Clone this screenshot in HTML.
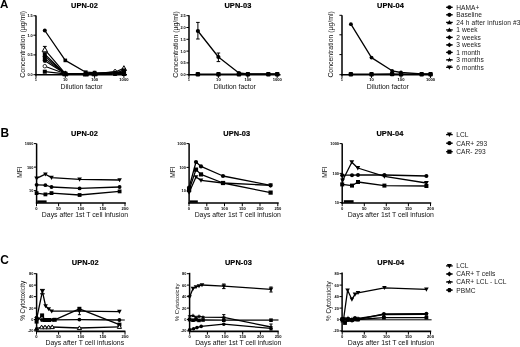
<!DOCTYPE html>
<html><head><meta charset="utf-8"><title>Figure</title>
<style>html,body{margin:0;padding:0;background:#fff;}body{width:520px;height:347px;overflow:hidden;font-family:"Liberation Sans",sans-serif;}svg{display:block;filter:blur(0.3px);}</style>
</head><body>
<svg width="520" height="347" viewBox="0 0 520 347" font-family="Liberation Sans, sans-serif">
<rect width="520" height="347" fill="#fff"/>
<text x="0.1" y="8.1" font-size="11.6" text-anchor="start" font-weight="bold" fill="#000" >A</text>
<text x="0.5" y="136.5" font-size="11.9" text-anchor="start" font-weight="bold" fill="#000" >B</text>
<text x="0.2" y="264.3" font-size="11.9" text-anchor="start" font-weight="bold" fill="#000" >C</text>
<text x="84.5" y="7.7" font-size="7.4" text-anchor="middle" font-weight="bold" fill="#000" letter-spacing="0.12" stroke="#000" stroke-width="0.18">UPN-02</text>
<text x="237.9" y="7.7" font-size="7.4" text-anchor="middle" font-weight="bold" fill="#000" letter-spacing="0.12" stroke="#000" stroke-width="0.18">UPN-03</text>
<text x="390.5" y="7.7" font-size="7.4" text-anchor="middle" font-weight="bold" fill="#000" letter-spacing="0.12" stroke="#000" stroke-width="0.18">UPN-04</text>
<text x="84.5" y="135.8" font-size="7.4" text-anchor="middle" font-weight="bold" fill="#000" letter-spacing="0.12" stroke="#000" stroke-width="0.18">UPN-02</text>
<text x="236.7" y="135.8" font-size="7.4" text-anchor="middle" font-weight="bold" fill="#000" letter-spacing="0.12" stroke="#000" stroke-width="0.18">UPN-03</text>
<text x="389.9" y="135.8" font-size="7.4" text-anchor="middle" font-weight="bold" fill="#000" letter-spacing="0.12" stroke="#000" stroke-width="0.18">UPN-04</text>
<text x="85.2" y="264.9" font-size="7.4" text-anchor="middle" font-weight="bold" fill="#000" letter-spacing="0.12" stroke="#000" stroke-width="0.18">UPN-02</text>
<text x="238.4" y="264.9" font-size="7.4" text-anchor="middle" font-weight="bold" fill="#000" letter-spacing="0.12" stroke="#000" stroke-width="0.18">UPN-03</text>
<text x="390.8" y="264.9" font-size="7.4" text-anchor="middle" font-weight="bold" fill="#000" letter-spacing="0.12" stroke="#000" stroke-width="0.18">UPN-04</text>
<line x1="36.0" y1="15.5" x2="36.0" y2="75.5" stroke="#000" stroke-width="1.5"/>
<line x1="35.2" y1="74.7" x2="127.0" y2="74.7" stroke="#000" stroke-width="1.6"/>
<line x1="33.4" y1="74.7" x2="36.0" y2="74.7" stroke="#000" stroke-width="1.0"/>
<text x="32.8" y="76.1" font-size="3.9" text-anchor="end" font-weight="bold" fill="#000" >0.0</text>
<line x1="33.4" y1="54.9" x2="36.0" y2="54.9" stroke="#000" stroke-width="1.0"/>
<text x="32.8" y="56.3" font-size="3.9" text-anchor="end" font-weight="bold" fill="#000" >0.5</text>
<line x1="33.4" y1="35.2" x2="36.0" y2="35.2" stroke="#000" stroke-width="1.0"/>
<text x="32.8" y="36.6" font-size="3.9" text-anchor="end" font-weight="bold" fill="#000" >1.0</text>
<line x1="33.4" y1="15.8" x2="36.0" y2="15.8" stroke="#000" stroke-width="1.0"/>
<text x="32.8" y="17.2" font-size="3.9" text-anchor="end" font-weight="bold" fill="#000" >1.5</text>
<line x1="36.0" y1="74.7" x2="36.0" y2="77.9" stroke="#000" stroke-width="1.0"/>
<text x="36.0" y="81.3" font-size="4.1" text-anchor="middle" font-weight="bold" fill="#000" >1</text>
<line x1="65.3" y1="74.7" x2="65.3" y2="77.9" stroke="#000" stroke-width="1.0"/>
<text x="65.3" y="81.3" font-size="4.1" text-anchor="middle" font-weight="bold" fill="#000" >10</text>
<line x1="94.6" y1="74.7" x2="94.6" y2="77.9" stroke="#000" stroke-width="1.0"/>
<text x="94.6" y="81.3" font-size="4.1" text-anchor="middle" font-weight="bold" fill="#000" >100</text>
<line x1="123.9" y1="74.7" x2="123.9" y2="77.9" stroke="#000" stroke-width="1.0"/>
<text x="123.9" y="81.3" font-size="4.1" text-anchor="middle" font-weight="bold" fill="#000" >1000</text>
<text x="0" y="0" font-size="6.95" text-anchor="middle" fill="#111" transform="translate(24.9,44.3) rotate(-90)" >Concentration (µg/ml)</text>
<text x="81.5" y="89.0" font-size="6.9" text-anchor="middle" font-weight="normal" fill="#111" >Dilution factor</text>
<polyline points="44.8,49.6 65.3,73.6 85.8,73.8 94.6,73.6 115.1,72.0 123.9,68.4" fill="none" stroke="#000" stroke-width="1.1760000000000002" stroke-linejoin="round"/>
<polyline points="44.8,54.2 65.3,73.8 85.8,74.0 94.6,74.0 115.1,73.0 123.9,70.4" fill="none" stroke="#000" stroke-width="1.1760000000000002" stroke-linejoin="round"/>
<polyline points="44.8,56.4 65.3,73.8 85.8,73.8 94.6,74.0 115.1,73.6 123.9,72.2" fill="none" stroke="#000" stroke-width="1.1760000000000002" stroke-linejoin="round"/>
<polyline points="44.8,58.6 65.3,73.8 85.8,74.0 94.6,73.8 115.1,73.6 123.9,73.4" fill="none" stroke="#000" stroke-width="1.1760000000000002" stroke-linejoin="round"/>
<polyline points="44.8,60.8 65.3,73.8 85.8,73.8 94.6,74.0 115.1,73.6 123.9,73.6" fill="none" stroke="#000" stroke-width="1.1760000000000002" stroke-linejoin="round"/>
<polyline points="44.8,66.2 65.3,73.8 85.8,73.8 94.6,73.8 115.1,71.6 123.9,73.8" fill="none" stroke="#000" stroke-width="1.1760000000000002" stroke-linejoin="round"/>
<polyline points="44.8,71.7 65.3,73.8 85.8,74.0 94.6,73.8 115.1,73.6 123.9,74.0" fill="none" stroke="#000" stroke-width="1.1760000000000002" stroke-linejoin="round"/>
<line x1="44.8" y1="46.4" x2="44.8" y2="50.5" stroke="#000" stroke-width="1.0"/>
<line x1="42.9" y1="46.4" x2="46.7" y2="46.4" stroke="#000" stroke-width="1.0"/>
<line x1="42.9" y1="50.5" x2="46.7" y2="50.5" stroke="#000" stroke-width="1.0"/>
<polyline points="44.8,30.5 65.3,60.4 85.8,72.2 94.6,72.6 115.1,72.8 123.9,71.8" fill="none" stroke="#000" stroke-width="1.288" stroke-linejoin="round"/>
<polygon points="42.1,51.8 47.5,51.8 44.8,46.9" fill="#fff" stroke="#000" stroke-width="1.0"/>
<polygon points="62.6,75.8 68.0,75.8 65.3,70.9" fill="#fff" stroke="#000" stroke-width="1.0"/>
<polygon points="83.1,76.0 88.5,76.0 85.8,71.1" fill="#fff" stroke="#000" stroke-width="1.0"/>
<polygon points="91.9,75.8 97.3,75.8 94.6,70.9" fill="#fff" stroke="#000" stroke-width="1.0"/>
<polygon points="112.4,74.2 117.8,74.2 115.1,69.3" fill="#fff" stroke="#000" stroke-width="1.0"/>
<polygon points="121.2,70.6 126.6,70.6 123.9,65.7" fill="#fff" stroke="#000" stroke-width="1.0"/>
<rect x="42.8" y="52.2" width="4.0" height="4.0" fill="#000"/>
<rect x="63.3" y="71.8" width="4.0" height="4.0" fill="#000"/>
<rect x="83.8" y="72.0" width="4.0" height="4.0" fill="#000"/>
<rect x="92.6" y="72.0" width="4.0" height="4.0" fill="#000"/>
<rect x="113.1" y="71.0" width="4.0" height="4.0" fill="#000"/>
<rect x="121.9" y="68.4" width="4.0" height="4.0" fill="#000"/>
<polygon points="42.4,56.4 44.8,54.0 47.2,56.4 44.8,58.8" fill="#000"/>
<polygon points="62.9,73.8 65.3,71.4 67.7,73.8 65.3,76.2" fill="#000"/>
<polygon points="83.4,73.8 85.8,71.4 88.2,73.8 85.8,76.2" fill="#000"/>
<polygon points="92.2,74.0 94.6,71.6 97.0,74.0 94.6,76.4" fill="#000"/>
<polygon points="112.7,73.6 115.1,71.2 117.5,73.6 115.1,76.0" fill="#000"/>
<polygon points="121.5,72.2 123.9,69.8 126.3,72.2 123.9,74.6" fill="#000"/>
<rect x="42.8" y="56.6" width="4.0" height="4.0" fill="#000"/>
<rect x="63.3" y="71.8" width="4.0" height="4.0" fill="#000"/>
<rect x="83.8" y="72.0" width="4.0" height="4.0" fill="#000"/>
<rect x="92.6" y="71.8" width="4.0" height="4.0" fill="#000"/>
<rect x="113.1" y="71.6" width="4.0" height="4.0" fill="#000"/>
<rect x="121.9" y="71.4" width="4.0" height="4.0" fill="#000"/>
<polygon points="47.09,60.80 45.95,62.76 43.69,62.76 42.55,60.80 43.69,58.84 45.95,58.84" fill="#000"/>
<polygon points="67.57,73.80 66.43,75.76 64.17,75.76 63.03,73.80 64.17,71.84 66.43,71.84" fill="#000"/>
<polygon points="88.05,73.80 86.91,75.76 84.65,75.76 83.51,73.80 84.65,71.84 86.91,71.84" fill="#000"/>
<polygon points="96.87,74.00 95.73,75.96 93.47,75.96 92.33,74.00 93.47,72.04 95.73,72.04" fill="#000"/>
<polygon points="117.35,73.60 116.21,75.56 113.95,75.56 112.81,73.60 113.95,71.64 116.21,71.64" fill="#000"/>
<polygon points="126.17,73.60 125.03,75.56 122.77,75.56 121.63,73.60 122.77,71.64 125.03,71.64" fill="#000"/>
<circle cx="44.8" cy="66.2" r="1.76" fill="#fff" stroke="#000" stroke-width="0.8"/>
<circle cx="65.3" cy="73.8" r="1.76" fill="#fff" stroke="#000" stroke-width="0.8"/>
<circle cx="85.8" cy="73.8" r="1.76" fill="#fff" stroke="#000" stroke-width="0.8"/>
<circle cx="94.6" cy="73.8" r="1.76" fill="#fff" stroke="#000" stroke-width="0.8"/>
<circle cx="115.1" cy="71.6" r="1.76" fill="#fff" stroke="#000" stroke-width="0.8"/>
<circle cx="123.9" cy="73.8" r="1.76" fill="#fff" stroke="#000" stroke-width="0.8"/>
<rect x="42.8" y="69.7" width="4.0" height="4.0" fill="#000"/>
<rect x="63.3" y="71.8" width="4.0" height="4.0" fill="#000"/>
<rect x="83.8" y="72.0" width="4.0" height="4.0" fill="#000"/>
<rect x="92.6" y="71.8" width="4.0" height="4.0" fill="#000"/>
<rect x="113.1" y="71.6" width="4.0" height="4.0" fill="#000"/>
<rect x="121.9" y="72.0" width="4.0" height="4.0" fill="#000"/>
<circle cx="44.8" cy="30.5" r="2.02" fill="#000"/>
<rect x="63.5" y="58.6" width="3.6" height="3.6" fill="#000"/>
<rect x="84.0" y="70.4" width="3.6" height="3.6" fill="#000"/>
<rect x="92.8" y="70.8" width="3.6" height="3.6" fill="#000"/>
<rect x="113.3" y="71.0" width="3.6" height="3.6" fill="#000"/>
<rect x="122.1" y="70.0" width="3.6" height="3.6" fill="#000"/>
<line x1="189.0" y1="15.2" x2="189.0" y2="75.5" stroke="#000" stroke-width="1.5"/>
<line x1="188.2" y1="74.7" x2="280.5" y2="74.7" stroke="#000" stroke-width="1.6"/>
<line x1="186.4" y1="74.7" x2="189.0" y2="74.7" stroke="#000" stroke-width="1.0"/>
<text x="185.8" y="76.1" font-size="3.9" text-anchor="end" font-weight="bold" fill="#000" >0.0</text>
<line x1="186.4" y1="62.9" x2="189.0" y2="62.9" stroke="#000" stroke-width="1.0"/>
<text x="185.8" y="64.3" font-size="3.9" text-anchor="end" font-weight="bold" fill="#000" >0.5</text>
<line x1="186.4" y1="51.1" x2="189.0" y2="51.1" stroke="#000" stroke-width="1.0"/>
<text x="185.8" y="52.5" font-size="3.9" text-anchor="end" font-weight="bold" fill="#000" >1.0</text>
<line x1="186.4" y1="39.3" x2="189.0" y2="39.3" stroke="#000" stroke-width="1.0"/>
<text x="185.8" y="40.7" font-size="3.9" text-anchor="end" font-weight="bold" fill="#000" >1.5</text>
<line x1="186.4" y1="27.5" x2="189.0" y2="27.5" stroke="#000" stroke-width="1.0"/>
<text x="185.8" y="28.9" font-size="3.9" text-anchor="end" font-weight="bold" fill="#000" >2.0</text>
<line x1="186.4" y1="15.7" x2="189.0" y2="15.7" stroke="#000" stroke-width="1.0"/>
<text x="185.8" y="17.1" font-size="3.9" text-anchor="end" font-weight="bold" fill="#000" >2.5</text>
<line x1="189.0" y1="74.7" x2="189.0" y2="77.9" stroke="#000" stroke-width="1.0"/>
<text x="189.0" y="81.3" font-size="4.1" text-anchor="middle" font-weight="bold" fill="#000" >1</text>
<line x1="218.4" y1="74.7" x2="218.4" y2="77.9" stroke="#000" stroke-width="1.0"/>
<text x="218.4" y="81.3" font-size="4.1" text-anchor="middle" font-weight="bold" fill="#000" >10</text>
<line x1="247.8" y1="74.7" x2="247.8" y2="77.9" stroke="#000" stroke-width="1.0"/>
<text x="247.8" y="81.3" font-size="4.1" text-anchor="middle" font-weight="bold" fill="#000" >100</text>
<line x1="277.2" y1="74.7" x2="277.2" y2="77.9" stroke="#000" stroke-width="1.0"/>
<text x="277.2" y="81.3" font-size="4.1" text-anchor="middle" font-weight="bold" fill="#000" >1000</text>
<text x="0" y="0" font-size="6.93" text-anchor="middle" fill="#111" transform="translate(178.2,44.5) rotate(-90)" >Concentration (µg/ml)</text>
<text x="234.8" y="89.0" font-size="6.9" text-anchor="middle" font-weight="normal" fill="#111" >Dilution factor</text>
<line x1="197.9" y1="22.4" x2="197.9" y2="39.0" stroke="#000" stroke-width="1.0"/>
<line x1="196.1" y1="22.4" x2="199.7" y2="22.4" stroke="#000" stroke-width="1.0"/>
<line x1="196.1" y1="39.0" x2="199.7" y2="39.0" stroke="#000" stroke-width="1.0"/>
<line x1="218.4" y1="53.0" x2="218.4" y2="61.6" stroke="#000" stroke-width="1.0"/>
<line x1="216.6" y1="53.0" x2="220.2" y2="53.0" stroke="#000" stroke-width="1.0"/>
<line x1="216.6" y1="61.6" x2="220.2" y2="61.6" stroke="#000" stroke-width="1.0"/>
<polyline points="197.9,31.0 218.4,57.0 238.9,73.0 247.8,74.0 268.3,74.0 277.2,74.0" fill="none" stroke="#000" stroke-width="1.288" stroke-linejoin="round"/>
<polyline points="197.9,74.2 218.4,74.2 238.9,74.2 247.8,74.2 268.3,74.2 277.2,74.2" fill="none" stroke="#000" stroke-width="1.288" stroke-linejoin="round"/>
<circle cx="197.9" cy="31.0" r="2.11" fill="#000"/>
<circle cx="218.4" cy="57.0" r="2.11" fill="#000"/>
<circle cx="238.9" cy="73.0" r="2.11" fill="#000"/>
<circle cx="247.8" cy="74.0" r="2.11" fill="#000"/>
<circle cx="268.3" cy="74.0" r="2.11" fill="#000"/>
<circle cx="277.2" cy="74.0" r="2.11" fill="#000"/>
<rect x="195.6" y="72.0" width="4.5" height="4.5" rx="1.12" fill="#000"/>
<rect x="216.2" y="72.0" width="4.5" height="4.5" rx="1.12" fill="#000"/>
<rect x="236.7" y="72.0" width="4.5" height="4.5" rx="1.12" fill="#000"/>
<rect x="245.6" y="72.0" width="4.5" height="4.5" rx="1.12" fill="#000"/>
<rect x="266.1" y="72.0" width="4.5" height="4.5" rx="1.12" fill="#000"/>
<rect x="275.0" y="72.0" width="4.5" height="4.5" rx="1.12" fill="#000"/>
<line x1="342.0" y1="15.2" x2="342.0" y2="75.5" stroke="#000" stroke-width="1.5"/>
<line x1="341.2" y1="74.7" x2="432.5" y2="74.7" stroke="#000" stroke-width="1.6"/>
<line x1="339.4" y1="74.7" x2="342.0" y2="74.7" stroke="#000" stroke-width="1.0"/>
<line x1="339.4" y1="54.6" x2="342.0" y2="54.6" stroke="#000" stroke-width="1.0"/>
<line x1="339.4" y1="34.8" x2="342.0" y2="34.8" stroke="#000" stroke-width="1.0"/>
<line x1="339.4" y1="15.3" x2="342.0" y2="15.3" stroke="#000" stroke-width="1.0"/>
<line x1="342.0" y1="74.7" x2="342.0" y2="77.9" stroke="#000" stroke-width="1.0"/>
<text x="342.0" y="81.3" font-size="4.1" text-anchor="middle" font-weight="bold" fill="#000" >1</text>
<line x1="371.5" y1="74.7" x2="371.5" y2="77.9" stroke="#000" stroke-width="1.0"/>
<text x="371.5" y="81.3" font-size="4.1" text-anchor="middle" font-weight="bold" fill="#000" >10</text>
<line x1="401.0" y1="74.7" x2="401.0" y2="77.9" stroke="#000" stroke-width="1.0"/>
<text x="401.0" y="81.3" font-size="4.1" text-anchor="middle" font-weight="bold" fill="#000" >100</text>
<line x1="430.5" y1="74.7" x2="430.5" y2="77.9" stroke="#000" stroke-width="1.0"/>
<text x="430.5" y="81.3" font-size="4.1" text-anchor="middle" font-weight="bold" fill="#000" >1000</text>
<text x="0" y="0" font-size="6.9" text-anchor="middle" fill="#111" transform="translate(333.4,44.4) rotate(-90)" >Concentration (µg/ml)</text>
<text x="387.7" y="89.0" font-size="6.9" text-anchor="middle" font-weight="normal" fill="#111" >Dilution factor</text>
<polyline points="350.9,24.2 371.5,57.6 392.1,70.8 401.0,72.5 421.6,73.8 430.5,74.0" fill="none" stroke="#000" stroke-width="1.288" stroke-linejoin="round"/>
<polyline points="350.9,74.2 371.5,74.2 392.1,74.0 401.0,74.2 421.6,74.2 430.5,74.2" fill="none" stroke="#000" stroke-width="1.288" stroke-linejoin="round"/>
<circle cx="350.9" cy="24.2" r="1.92" fill="#000"/>
<circle cx="371.5" cy="57.6" r="1.92" fill="#000"/>
<circle cx="392.1" cy="70.8" r="1.92" fill="#000"/>
<circle cx="401.0" cy="72.5" r="1.92" fill="#000"/>
<circle cx="421.6" cy="73.8" r="1.92" fill="#000"/>
<circle cx="430.5" cy="74.0" r="1.92" fill="#000"/>
<rect x="348.6" y="72.0" width="4.5" height="4.5" rx="1.12" fill="#000"/>
<rect x="369.3" y="72.0" width="4.5" height="4.5" rx="1.12" fill="#000"/>
<rect x="389.9" y="71.8" width="4.5" height="4.5" rx="1.12" fill="#000"/>
<rect x="398.8" y="72.0" width="4.5" height="4.5" rx="1.12" fill="#000"/>
<rect x="419.4" y="72.0" width="4.5" height="4.5" rx="1.12" fill="#000"/>
<rect x="428.3" y="72.0" width="4.5" height="4.5" rx="1.12" fill="#000"/>
<line x1="446.1" y1="7.3" x2="452.7" y2="7.3" stroke="#000" stroke-width="1.3"/>
<circle cx="449.4" cy="7.3" r="2.08" fill="#000"/>
<text x="456.3" y="9.7" font-size="6.6" text-anchor="start" font-weight="normal" fill="#1a1a1a" letter-spacing="0.05">HAMA+</text>
<line x1="446.1" y1="14.8" x2="452.7" y2="14.8" stroke="#000" stroke-width="1.3"/>
<circle cx="449.4" cy="14.8" r="2.08" fill="#000"/>
<text x="456.3" y="17.2" font-size="6.6" text-anchor="start" font-weight="normal" fill="#1a1a1a" letter-spacing="0.05">Baseline</text>
<line x1="446.1" y1="22.4" x2="452.7" y2="22.4" stroke="#000" stroke-width="1.3"/>
<polygon points="446.9,24.3 451.9,24.3 449.4,19.9" fill="#000"/>
<text x="456.3" y="24.7" font-size="6.6" text-anchor="start" font-weight="normal" fill="#1a1a1a" letter-spacing="0.12">24 h after infusion #3</text>
<line x1="446.1" y1="29.9" x2="452.7" y2="29.9" stroke="#000" stroke-width="1.3"/>
<polygon points="446.9,31.8 451.9,31.8 449.4,27.4" fill="#000"/>
<text x="456.3" y="32.2" font-size="6.6" text-anchor="start" font-weight="normal" fill="#1a1a1a" letter-spacing="0.05">1 week</text>
<line x1="446.1" y1="37.4" x2="452.7" y2="37.4" stroke="#000" stroke-width="1.3"/>
<polygon points="446.9,37.4 449.4,34.9 451.9,37.4 449.4,39.8" fill="#000"/>
<text x="456.3" y="39.7" font-size="6.6" text-anchor="start" font-weight="normal" fill="#1a1a1a" letter-spacing="0.05">2 weeks</text>
<line x1="446.1" y1="44.9" x2="452.7" y2="44.9" stroke="#000" stroke-width="1.3"/>
<polygon points="446.9,44.9 449.4,42.4 451.9,44.9 449.4,47.3" fill="#000"/>
<text x="456.3" y="47.2" font-size="6.6" text-anchor="start" font-weight="normal" fill="#1a1a1a" letter-spacing="0.05">3 weeks</text>
<line x1="446.1" y1="52.4" x2="452.7" y2="52.4" stroke="#000" stroke-width="1.3"/>
<polygon points="451.74,52.35 450.57,54.38 448.23,54.38 447.06,52.35 448.23,50.32 450.57,50.32" fill="#000"/>
<text x="456.3" y="54.7" font-size="6.6" text-anchor="start" font-weight="normal" fill="#1a1a1a" letter-spacing="0.05">1 month</text>
<line x1="446.1" y1="59.9" x2="452.7" y2="59.9" stroke="#000" stroke-width="1.3"/>
<polygon points="449.40,57.25 450.09,58.90 451.87,59.05 450.51,60.21 450.93,61.95 449.40,61.02 447.87,61.95 448.29,60.21 446.93,59.05 448.71,58.90" fill="#000"/>
<text x="456.3" y="62.2" font-size="6.6" text-anchor="start" font-weight="normal" fill="#1a1a1a" letter-spacing="0.05">3 months</text>
<line x1="446.1" y1="67.3" x2="452.7" y2="67.3" stroke="#000" stroke-width="1.3"/>
<polygon points="446.9,65.4 451.9,65.4 449.4,69.8" fill="#000"/>
<text x="456.3" y="69.7" font-size="6.6" text-anchor="start" font-weight="normal" fill="#1a1a1a" letter-spacing="0.05">6 months</text>
<line x1="36.6" y1="143.6" x2="36.6" y2="203.8" stroke="#000" stroke-width="1.5"/>
<line x1="35.9" y1="203.0" x2="125.8" y2="203.0" stroke="#000" stroke-width="1.6"/>
<line x1="34.0" y1="143.6" x2="36.6" y2="143.6" stroke="#000" stroke-width="1.0"/>
<text x="33.4" y="145.0" font-size="3.9" text-anchor="end" font-weight="bold" fill="#000" >1000</text>
<line x1="34.0" y1="167.1" x2="36.6" y2="167.1" stroke="#000" stroke-width="1.0"/>
<text x="33.4" y="168.5" font-size="3.9" text-anchor="end" font-weight="bold" fill="#000" >100</text>
<line x1="34.0" y1="190.6" x2="36.6" y2="190.6" stroke="#000" stroke-width="1.0"/>
<text x="33.4" y="192.0" font-size="3.9" text-anchor="end" font-weight="bold" fill="#000" >10</text>
<line x1="36.5" y1="203.0" x2="36.5" y2="206.2" stroke="#000" stroke-width="1.0"/>
<text x="36.5" y="209.6" font-size="4.1" text-anchor="middle" font-weight="bold" fill="#000" >0</text>
<line x1="58.6" y1="203.0" x2="58.6" y2="206.2" stroke="#000" stroke-width="1.0"/>
<text x="58.6" y="209.6" font-size="4.1" text-anchor="middle" font-weight="bold" fill="#000" >50</text>
<line x1="80.8" y1="203.0" x2="80.8" y2="206.2" stroke="#000" stroke-width="1.0"/>
<text x="80.8" y="209.6" font-size="4.1" text-anchor="middle" font-weight="bold" fill="#000" >100</text>
<line x1="102.9" y1="203.0" x2="102.9" y2="206.2" stroke="#000" stroke-width="1.0"/>
<text x="102.9" y="209.6" font-size="4.1" text-anchor="middle" font-weight="bold" fill="#000" >150</text>
<line x1="125.0" y1="203.0" x2="125.0" y2="206.2" stroke="#000" stroke-width="1.0"/>
<text x="125.0" y="209.6" font-size="4.1" text-anchor="middle" font-weight="bold" fill="#000" >200</text>
<text x="0" y="0" font-size="6.6" text-anchor="middle" fill="#111" transform="translate(22.0,172.0) rotate(-90)" >MFI</text>
<text x="85.0" y="217.0" font-size="6.9" text-anchor="middle" font-weight="normal" fill="#111" >Days after 1st T cell infusion</text>
<polyline points="36.6,178.4 45.4,174.2 51.5,177.6 79.6,179.4 119.6,180.0" fill="none" stroke="#000" stroke-width="1.288" stroke-linejoin="round"/>
<polyline points="36.6,184.8 45.4,185.2 51.5,187.0 79.6,188.4 119.6,187.0" fill="none" stroke="#000" stroke-width="1.288" stroke-linejoin="round"/>
<polyline points="36.6,193.1 45.4,194.4 51.5,193.1 79.6,195.0 119.6,191.4" fill="none" stroke="#000" stroke-width="1.288" stroke-linejoin="round"/>
<rect x="37.2" y="200.4" width="9.4" height="2.4" fill="#000"/>
<polygon points="34.3,176.6 38.9,176.6 36.6,180.7" fill="#000"/>
<polygon points="43.1,172.4 47.7,172.4 45.4,176.5" fill="#000"/>
<polygon points="49.2,175.8 53.8,175.8 51.5,179.9" fill="#000"/>
<polygon points="77.3,177.6 81.9,177.6 79.6,181.7" fill="#000"/>
<polygon points="117.3,178.2 121.9,178.2 119.6,182.3" fill="#000"/>
<circle cx="36.6" cy="184.8" r="1.92" fill="#000"/>
<circle cx="45.4" cy="185.2" r="1.92" fill="#000"/>
<circle cx="51.5" cy="187.0" r="1.92" fill="#000"/>
<circle cx="79.6" cy="188.4" r="1.92" fill="#000"/>
<circle cx="119.6" cy="187.0" r="1.92" fill="#000"/>
<rect x="34.7" y="191.2" width="3.8" height="3.8" fill="#000"/>
<rect x="43.5" y="192.5" width="3.8" height="3.8" fill="#000"/>
<rect x="49.6" y="191.2" width="3.8" height="3.8" fill="#000"/>
<rect x="77.7" y="193.1" width="3.8" height="3.8" fill="#000"/>
<rect x="117.7" y="189.5" width="3.8" height="3.8" fill="#000"/>
<line x1="189.1" y1="143.6" x2="189.1" y2="203.8" stroke="#000" stroke-width="1.5"/>
<line x1="188.3" y1="203.0" x2="278.7" y2="203.0" stroke="#000" stroke-width="1.6"/>
<line x1="186.5" y1="143.6" x2="189.1" y2="143.6" stroke="#000" stroke-width="1.0"/>
<text x="185.9" y="145.0" font-size="3.9" text-anchor="end" font-weight="bold" fill="#000" >1000</text>
<line x1="186.5" y1="167.4" x2="189.1" y2="167.4" stroke="#000" stroke-width="1.0"/>
<text x="185.9" y="168.8" font-size="3.9" text-anchor="end" font-weight="bold" fill="#000" >100</text>
<line x1="186.5" y1="191.0" x2="189.1" y2="191.0" stroke="#000" stroke-width="1.0"/>
<text x="185.9" y="192.4" font-size="3.9" text-anchor="end" font-weight="bold" fill="#000" >10</text>
<line x1="189.0" y1="203.0" x2="189.0" y2="206.2" stroke="#000" stroke-width="1.0"/>
<text x="189.0" y="209.6" font-size="4.1" text-anchor="middle" font-weight="bold" fill="#000" >0</text>
<line x1="206.8" y1="203.0" x2="206.8" y2="206.2" stroke="#000" stroke-width="1.0"/>
<text x="206.8" y="209.6" font-size="4.1" text-anchor="middle" font-weight="bold" fill="#000" >50</text>
<line x1="224.5" y1="203.0" x2="224.5" y2="206.2" stroke="#000" stroke-width="1.0"/>
<text x="224.5" y="209.6" font-size="4.1" text-anchor="middle" font-weight="bold" fill="#000" >100</text>
<line x1="242.3" y1="203.0" x2="242.3" y2="206.2" stroke="#000" stroke-width="1.0"/>
<text x="242.3" y="209.6" font-size="4.1" text-anchor="middle" font-weight="bold" fill="#000" >150</text>
<line x1="260.0" y1="203.0" x2="260.0" y2="206.2" stroke="#000" stroke-width="1.0"/>
<text x="260.0" y="209.6" font-size="4.1" text-anchor="middle" font-weight="bold" fill="#000" >200</text>
<line x1="277.8" y1="203.0" x2="277.8" y2="206.2" stroke="#000" stroke-width="1.0"/>
<text x="277.8" y="209.6" font-size="4.1" text-anchor="middle" font-weight="bold" fill="#000" >250</text>
<text x="0" y="0" font-size="6.6" text-anchor="middle" fill="#111" transform="translate(175.0,172.0) rotate(-90)" >MFI</text>
<text x="237.8" y="217.0" font-size="6.9" text-anchor="middle" font-weight="normal" fill="#111" >Days after 1st T cell infusion</text>
<polyline points="189.1,187.5 196.0,162.0 201.0,166.4 223.0,176.0 270.6,185.4" fill="none" stroke="#000" stroke-width="1.288" stroke-linejoin="round"/>
<polyline points="189.1,190.0 196.0,169.6 201.0,174.4 223.0,183.0 270.6,192.6" fill="none" stroke="#000" stroke-width="1.288" stroke-linejoin="round"/>
<polyline points="189.1,192.5 196.0,177.0 201.0,180.4 223.0,183.0 270.6,185.4" fill="none" stroke="#000" stroke-width="1.288" stroke-linejoin="round"/>
<rect x="189.6" y="200.4" width="8.2" height="2.4" fill="#000"/>
<circle cx="189.1" cy="187.5" r="2.11" fill="#000"/>
<circle cx="196.0" cy="162.0" r="2.11" fill="#000"/>
<circle cx="201.0" cy="166.4" r="2.11" fill="#000"/>
<circle cx="223.0" cy="176.0" r="2.11" fill="#000"/>
<circle cx="270.6" cy="185.4" r="2.11" fill="#000"/>
<rect x="187.0" y="187.9" width="4.2" height="4.2" fill="#000"/>
<rect x="193.9" y="167.5" width="4.2" height="4.2" fill="#000"/>
<rect x="198.9" y="172.3" width="4.2" height="4.2" fill="#000"/>
<rect x="220.9" y="180.9" width="4.2" height="4.2" fill="#000"/>
<rect x="268.5" y="190.5" width="4.2" height="4.2" fill="#000"/>
<polygon points="186.8,190.7 191.4,190.7 189.1,194.8" fill="#000"/>
<polygon points="193.7,175.2 198.3,175.2 196.0,179.3" fill="#000"/>
<polygon points="198.7,178.6 203.3,178.6 201.0,182.7" fill="#000"/>
<polygon points="220.7,181.2 225.3,181.2 223.0,185.3" fill="#000"/>
<polygon points="268.3,183.6 272.9,183.6 270.6,187.7" fill="#000"/>
<line x1="342.2" y1="143.6" x2="342.2" y2="203.8" stroke="#000" stroke-width="1.5"/>
<line x1="341.4" y1="203.0" x2="431.2" y2="203.0" stroke="#000" stroke-width="1.6"/>
<line x1="339.6" y1="143.6" x2="342.2" y2="143.6" stroke="#000" stroke-width="1.0"/>
<text x="339.0" y="145.0" font-size="3.9" text-anchor="end" font-weight="bold" fill="#000" >1000</text>
<line x1="339.6" y1="173.4" x2="342.2" y2="173.4" stroke="#000" stroke-width="1.0"/>
<text x="339.0" y="174.8" font-size="3.9" text-anchor="end" font-weight="bold" fill="#000" >100</text>
<line x1="339.6" y1="202.6" x2="342.2" y2="202.6" stroke="#000" stroke-width="1.0"/>
<text x="339.0" y="204.0" font-size="3.9" text-anchor="end" font-weight="bold" fill="#000" >10</text>
<line x1="342.2" y1="203.0" x2="342.2" y2="206.2" stroke="#000" stroke-width="1.0"/>
<text x="342.2" y="209.6" font-size="4.1" text-anchor="middle" font-weight="bold" fill="#000" >0</text>
<line x1="364.3" y1="203.0" x2="364.3" y2="206.2" stroke="#000" stroke-width="1.0"/>
<text x="364.3" y="209.6" font-size="4.1" text-anchor="middle" font-weight="bold" fill="#000" >50</text>
<line x1="386.3" y1="203.0" x2="386.3" y2="206.2" stroke="#000" stroke-width="1.0"/>
<text x="386.3" y="209.6" font-size="4.1" text-anchor="middle" font-weight="bold" fill="#000" >100</text>
<line x1="408.4" y1="203.0" x2="408.4" y2="206.2" stroke="#000" stroke-width="1.0"/>
<text x="408.4" y="209.6" font-size="4.1" text-anchor="middle" font-weight="bold" fill="#000" >150</text>
<line x1="430.5" y1="203.0" x2="430.5" y2="206.2" stroke="#000" stroke-width="1.0"/>
<text x="430.5" y="209.6" font-size="4.1" text-anchor="middle" font-weight="bold" fill="#000" >200</text>
<text x="0" y="0" font-size="6.6" text-anchor="middle" fill="#111" transform="translate(327.0,172.0) rotate(-90)" >MFI</text>
<text x="390.8" y="217.0" font-size="6.9" text-anchor="middle" font-weight="normal" fill="#111" >Days after 1st T cell infusion</text>
<polyline points="342.6,180.5 351.8,162.2 357.8,168.0 384.4,176.4 426.4,183.0" fill="none" stroke="#000" stroke-width="1.288" stroke-linejoin="round"/>
<polyline points="342.2,175.2 352.0,175.2 358.0,175.0 384.4,175.0 426.4,176.0" fill="none" stroke="#000" stroke-width="1.288" stroke-linejoin="round"/>
<polyline points="342.2,184.4 352.0,185.6 358.0,182.0 384.4,185.6 426.4,186.0" fill="none" stroke="#000" stroke-width="1.288" stroke-linejoin="round"/>
<rect x="343.8" y="200.2" width="9.8" height="2.6" fill="#000"/>
<polygon points="340.2,178.6 345.0,178.6 342.6,182.9" fill="#000"/>
<polygon points="349.4,160.3 354.2,160.3 351.8,164.6" fill="#000"/>
<polygon points="355.4,166.1 360.2,166.1 357.8,170.4" fill="#000"/>
<polygon points="382.0,174.5 386.8,174.5 384.4,178.8" fill="#000"/>
<polygon points="424.0,181.1 428.8,181.1 426.4,185.4" fill="#000"/>
<circle cx="342.2" cy="175.2" r="2.02" fill="#000"/>
<circle cx="352.0" cy="175.2" r="2.02" fill="#000"/>
<circle cx="358.0" cy="175.0" r="2.02" fill="#000"/>
<circle cx="384.4" cy="175.0" r="2.02" fill="#000"/>
<circle cx="426.4" cy="176.0" r="2.02" fill="#000"/>
<rect x="340.2" y="182.4" width="4.0" height="4.0" fill="#000"/>
<rect x="350.0" y="183.6" width="4.0" height="4.0" fill="#000"/>
<rect x="356.0" y="180.0" width="4.0" height="4.0" fill="#000"/>
<rect x="382.4" y="183.6" width="4.0" height="4.0" fill="#000"/>
<rect x="424.4" y="184.0" width="4.0" height="4.0" fill="#000"/>
<line x1="446.1" y1="134.6" x2="452.7" y2="134.6" stroke="#000" stroke-width="1.3"/>
<polygon points="446.9,132.6 451.9,132.6 449.4,137.1" fill="#000"/>
<text x="456.3" y="136.9" font-size="6.6" text-anchor="start" font-weight="normal" fill="#1a1a1a" letter-spacing="0.05">LCL</text>
<line x1="446.1" y1="143.2" x2="452.7" y2="143.2" stroke="#000" stroke-width="1.3"/>
<circle cx="449.4" cy="143.2" r="2.08" fill="#000"/>
<text x="456.3" y="145.5" font-size="6.6" text-anchor="start" font-weight="normal" fill="#1a1a1a" letter-spacing="0.05">CAR+ 293</text>
<line x1="446.1" y1="151.7" x2="452.7" y2="151.7" stroke="#000" stroke-width="1.3"/>
<rect x="447.3" y="149.6" width="4.2" height="4.2" fill="#000"/>
<text x="456.3" y="154.0" font-size="6.6" text-anchor="start" font-weight="normal" fill="#1a1a1a" letter-spacing="0.05">CAR- 293</text>
<line x1="36.6" y1="273.4" x2="36.6" y2="332.1" stroke="#000" stroke-width="1.5"/>
<line x1="35.9" y1="331.4" x2="125.4" y2="331.4" stroke="#000" stroke-width="1.6"/>
<line x1="34.0" y1="273.7" x2="36.6" y2="273.7" stroke="#000" stroke-width="1.0"/>
<text x="33.4" y="275.1" font-size="3.9" text-anchor="end" font-weight="bold" fill="#000" >80</text>
<line x1="34.0" y1="285.1" x2="36.6" y2="285.1" stroke="#000" stroke-width="1.0"/>
<text x="33.4" y="286.6" font-size="3.9" text-anchor="end" font-weight="bold" fill="#000" >60</text>
<line x1="34.0" y1="296.6" x2="36.6" y2="296.6" stroke="#000" stroke-width="1.0"/>
<text x="33.4" y="298.0" font-size="3.9" text-anchor="end" font-weight="bold" fill="#000" >40</text>
<line x1="34.0" y1="308.1" x2="36.6" y2="308.1" stroke="#000" stroke-width="1.0"/>
<text x="33.4" y="309.5" font-size="3.9" text-anchor="end" font-weight="bold" fill="#000" >20</text>
<line x1="34.0" y1="319.5" x2="36.6" y2="319.5" stroke="#000" stroke-width="1.0"/>
<text x="33.4" y="320.9" font-size="3.9" text-anchor="end" font-weight="bold" fill="#000" >0</text>
<line x1="34.0" y1="330.9" x2="36.6" y2="330.9" stroke="#000" stroke-width="1.0"/>
<text x="33.4" y="332.4" font-size="3.9" text-anchor="end" font-weight="bold" fill="#000" >-20</text>
<line x1="36.5" y1="331.4" x2="36.5" y2="334.6" stroke="#000" stroke-width="1.0"/>
<text x="36.5" y="338.0" font-size="4.1" text-anchor="middle" font-weight="bold" fill="#000" >0</text>
<line x1="58.6" y1="331.4" x2="58.6" y2="334.6" stroke="#000" stroke-width="1.0"/>
<text x="58.6" y="338.0" font-size="4.1" text-anchor="middle" font-weight="bold" fill="#000" >50</text>
<line x1="80.8" y1="331.4" x2="80.8" y2="334.6" stroke="#000" stroke-width="1.0"/>
<text x="80.8" y="338.0" font-size="4.1" text-anchor="middle" font-weight="bold" fill="#000" >100</text>
<line x1="102.9" y1="331.4" x2="102.9" y2="334.6" stroke="#000" stroke-width="1.0"/>
<text x="102.9" y="338.0" font-size="4.1" text-anchor="middle" font-weight="bold" fill="#000" >150</text>
<line x1="125.0" y1="331.4" x2="125.0" y2="334.6" stroke="#000" stroke-width="1.0"/>
<text x="125.0" y="338.0" font-size="4.1" text-anchor="middle" font-weight="bold" fill="#000" >200</text>
<text x="0" y="0" font-size="6.4" text-anchor="middle" fill="#111" transform="translate(25.2,300.8) rotate(-90)" >% Cytotoxicity</text>
<text x="84.8" y="344.6" font-size="6.9" text-anchor="middle" font-weight="normal" fill="#111" >Days after T cell infusions</text>
<line x1="42.4" y1="289.4" x2="42.4" y2="293.8" stroke="#000" stroke-width="1.0"/>
<line x1="40.0" y1="289.4" x2="44.8" y2="289.4" stroke="#000" stroke-width="1.0"/>
<line x1="40.0" y1="293.8" x2="44.8" y2="293.8" stroke="#000" stroke-width="1.0"/>
<line x1="79.4" y1="307.6" x2="79.4" y2="314.7" stroke="#000" stroke-width="1.0"/>
<line x1="77.9" y1="307.6" x2="80.9" y2="307.6" stroke="#000" stroke-width="1.0"/>
<line x1="77.9" y1="314.7" x2="80.9" y2="314.7" stroke="#000" stroke-width="1.0"/>
<polyline points="36.6,319.0 42.4,291.4 45.6,306.0 48.7,309.0 51.7,311.2 79.4,311.2 119.4,311.6" fill="none" stroke="#000" stroke-width="1.288" stroke-linejoin="round"/>
<polyline points="36.6,321.6 42.1,315.4 45.0,320.0 49.0,320.0 54.7,319.8 79.4,308.8 119.4,324.6" fill="none" stroke="#000" stroke-width="1.288" stroke-linejoin="round"/>
<polyline points="36.6,317.6 42.0,320.0 45.5,320.2 49.0,320.0 52.5,319.8 79.4,319.6 119.4,320.0" fill="none" stroke="#000" stroke-width="1.288" stroke-linejoin="round"/>
<polyline points="119.4,320.0 124.8,320.0" fill="none" stroke="#000" stroke-width="1.0" stroke-linejoin="round"/>
<polyline points="36.6,328.6 41.6,327.2 45.0,327.2 48.6,327.2 52.2,327.0 79.4,328.0 119.4,326.8" fill="none" stroke="#000" stroke-width="1.288" stroke-linejoin="round"/>
<polygon points="34.3,317.2 38.9,317.2 36.6,321.3" fill="#000"/>
<polygon points="40.1,289.6 44.7,289.6 42.4,293.7" fill="#000"/>
<polygon points="43.3,304.2 47.9,304.2 45.6,308.3" fill="#000"/>
<polygon points="46.4,307.2 51.0,307.2 48.7,311.3" fill="#000"/>
<polygon points="49.4,309.4 54.0,309.4 51.7,313.5" fill="#000"/>
<polygon points="77.1,309.4 81.7,309.4 79.4,313.5" fill="#000"/>
<polygon points="117.1,309.8 121.7,309.8 119.4,313.9" fill="#000"/>
<rect x="34.6" y="319.6" width="4.0" height="4.0" fill="#000"/>
<rect x="40.1" y="313.4" width="4.0" height="4.0" fill="#000"/>
<rect x="43.0" y="318.0" width="4.0" height="4.0" fill="#000"/>
<rect x="47.0" y="318.0" width="4.0" height="4.0" fill="#000"/>
<rect x="52.7" y="317.8" width="4.0" height="4.0" fill="#000"/>
<rect x="77.4" y="306.8" width="4.0" height="4.0" fill="#000"/>
<rect x="117.4" y="322.6" width="4.0" height="4.0" fill="#000"/>
<circle cx="36.6" cy="317.6" r="1.92" fill="#000"/>
<circle cx="42.0" cy="320.0" r="1.92" fill="#000"/>
<circle cx="45.5" cy="320.2" r="1.92" fill="#000"/>
<circle cx="49.0" cy="320.0" r="1.92" fill="#000"/>
<circle cx="52.5" cy="319.8" r="1.92" fill="#000"/>
<circle cx="79.4" cy="319.6" r="1.92" fill="#000"/>
<circle cx="119.4" cy="320.0" r="1.92" fill="#000"/>
<polygon points="34.5,330.2 38.7,330.2 36.6,326.5" fill="#fff" stroke="#000" stroke-width="1.0"/>
<polygon points="39.5,328.8 43.7,328.8 41.6,325.1" fill="#fff" stroke="#000" stroke-width="1.0"/>
<polygon points="42.9,328.8 47.1,328.8 45.0,325.1" fill="#fff" stroke="#000" stroke-width="1.0"/>
<polygon points="46.5,328.8 50.7,328.8 48.6,325.1" fill="#fff" stroke="#000" stroke-width="1.0"/>
<polygon points="50.1,328.6 54.3,328.6 52.2,324.9" fill="#fff" stroke="#000" stroke-width="1.0"/>
<polygon points="77.3,329.6 81.5,329.6 79.4,325.9" fill="#fff" stroke="#000" stroke-width="1.0"/>
<polygon points="117.3,328.4 121.5,328.4 119.4,324.7" fill="#fff" stroke="#000" stroke-width="1.0"/>
<polygon points="34.5,330.3 38.7,330.3 36.6,326.5" fill="#000"/>
<line x1="189.6" y1="272.8" x2="189.6" y2="332.1" stroke="#000" stroke-width="1.5"/>
<line x1="188.8" y1="331.4" x2="278.7" y2="331.4" stroke="#000" stroke-width="1.6"/>
<line x1="187.0" y1="273.7" x2="189.6" y2="273.7" stroke="#000" stroke-width="1.0"/>
<text x="186.4" y="275.1" font-size="3.9" text-anchor="end" font-weight="bold" fill="#000" >80</text>
<line x1="187.0" y1="285.1" x2="189.6" y2="285.1" stroke="#000" stroke-width="1.0"/>
<text x="186.4" y="286.6" font-size="3.9" text-anchor="end" font-weight="bold" fill="#000" >60</text>
<line x1="187.0" y1="296.6" x2="189.6" y2="296.6" stroke="#000" stroke-width="1.0"/>
<text x="186.4" y="298.0" font-size="3.9" text-anchor="end" font-weight="bold" fill="#000" >40</text>
<line x1="187.0" y1="308.1" x2="189.6" y2="308.1" stroke="#000" stroke-width="1.0"/>
<text x="186.4" y="309.5" font-size="3.9" text-anchor="end" font-weight="bold" fill="#000" >20</text>
<line x1="187.0" y1="319.5" x2="189.6" y2="319.5" stroke="#000" stroke-width="1.0"/>
<text x="186.4" y="320.9" font-size="3.9" text-anchor="end" font-weight="bold" fill="#000" >0</text>
<line x1="187.0" y1="330.9" x2="189.6" y2="330.9" stroke="#000" stroke-width="1.0"/>
<text x="186.4" y="332.4" font-size="3.9" text-anchor="end" font-weight="bold" fill="#000" >-20</text>
<line x1="189.7" y1="331.4" x2="189.7" y2="334.6" stroke="#000" stroke-width="1.0"/>
<text x="189.7" y="338.0" font-size="4.1" text-anchor="middle" font-weight="bold" fill="#000" >0</text>
<line x1="207.4" y1="331.4" x2="207.4" y2="334.6" stroke="#000" stroke-width="1.0"/>
<text x="207.4" y="338.0" font-size="4.1" text-anchor="middle" font-weight="bold" fill="#000" >50</text>
<line x1="225.0" y1="331.4" x2="225.0" y2="334.6" stroke="#000" stroke-width="1.0"/>
<text x="225.0" y="338.0" font-size="4.1" text-anchor="middle" font-weight="bold" fill="#000" >100</text>
<line x1="242.7" y1="331.4" x2="242.7" y2="334.6" stroke="#000" stroke-width="1.0"/>
<text x="242.7" y="338.0" font-size="4.1" text-anchor="middle" font-weight="bold" fill="#000" >150</text>
<line x1="260.4" y1="331.4" x2="260.4" y2="334.6" stroke="#000" stroke-width="1.0"/>
<text x="260.4" y="338.0" font-size="4.1" text-anchor="middle" font-weight="bold" fill="#000" >200</text>
<line x1="278.1" y1="331.4" x2="278.1" y2="334.6" stroke="#000" stroke-width="1.0"/>
<text x="278.1" y="338.0" font-size="4.1" text-anchor="middle" font-weight="bold" fill="#000" >250</text>
<text x="0" y="0" font-size="6.0" text-anchor="middle" fill="#111" transform="translate(179.3,302.3) rotate(-90)" >% Cytotoxicity</text>
<text x="238.3" y="344.6" font-size="6.9" text-anchor="middle" font-weight="normal" fill="#111" >Days after 1st T cell infusion</text>
<line x1="223.8" y1="284.0" x2="223.8" y2="288.6" stroke="#000" stroke-width="1.0"/>
<line x1="222.1" y1="284.0" x2="225.5" y2="284.0" stroke="#000" stroke-width="1.0"/>
<line x1="222.1" y1="288.6" x2="225.5" y2="288.6" stroke="#000" stroke-width="1.0"/>
<line x1="271.0" y1="287.0" x2="271.0" y2="292.0" stroke="#000" stroke-width="1.0"/>
<line x1="269.4" y1="287.0" x2="272.6" y2="287.0" stroke="#000" stroke-width="1.0"/>
<line x1="269.4" y1="292.0" x2="272.6" y2="292.0" stroke="#000" stroke-width="1.0"/>
<polyline points="189.6,297.0 193.0,288.6 196.0,287.0 199.0,286.0 202.0,285.0 223.8,286.2 271.0,289.4" fill="none" stroke="#000" stroke-width="1.288" stroke-linejoin="round"/>
<line x1="223.8" y1="314.6" x2="223.8" y2="320.2" stroke="#000" stroke-width="1.0"/>
<line x1="222.2" y1="314.6" x2="225.4" y2="314.6" stroke="#000" stroke-width="1.0"/>
<line x1="222.2" y1="320.2" x2="225.4" y2="320.2" stroke="#000" stroke-width="1.0"/>
<line x1="271.0" y1="324.0" x2="271.0" y2="330.0" stroke="#000" stroke-width="1.0"/>
<line x1="269.4" y1="324.0" x2="272.6" y2="324.0" stroke="#000" stroke-width="1.0"/>
<line x1="269.4" y1="330.0" x2="272.6" y2="330.0" stroke="#000" stroke-width="1.0"/>
<polyline points="189.6,316.0 193.0,315.6 196.0,317.4 199.0,316.4 203.0,317.2 223.8,317.4 271.0,327.0" fill="none" stroke="#000" stroke-width="1.288" stroke-linejoin="round"/>
<polyline points="189.6,319.6 193.0,320.2 196.0,319.6 199.0,320.4 203.0,320.0 223.8,320.2 271.0,320.2" fill="none" stroke="#000" stroke-width="1.288" stroke-linejoin="round"/>
<polyline points="271.0,320.0 278.5,320.0" fill="none" stroke="#000" stroke-width="1.15" stroke-linejoin="round"/>
<polyline points="189.6,329.7 193.6,328.7 197.0,327.6 201.2,326.4 223.8,324.2 271.0,328.4" fill="none" stroke="#000" stroke-width="1.288" stroke-linejoin="round"/>
<polygon points="187.3,295.2 191.9,295.2 189.6,299.3" fill="#000"/>
<polygon points="190.7,286.8 195.3,286.8 193.0,290.9" fill="#000"/>
<polygon points="193.7,285.2 198.3,285.2 196.0,289.3" fill="#000"/>
<polygon points="196.7,284.2 201.3,284.2 199.0,288.3" fill="#000"/>
<polygon points="199.7,283.2 204.3,283.2 202.0,287.3" fill="#000"/>
<polygon points="221.5,284.4 226.1,284.4 223.8,288.5" fill="#000"/>
<polygon points="268.7,287.6 273.3,287.6 271.0,291.7" fill="#000"/>
<polygon points="189.60,313.72 190.20,315.17 191.77,315.30 190.58,316.32 190.94,317.84 189.60,317.03 188.26,317.84 188.62,316.32 187.43,315.30 189.00,315.17" fill="#000"/>
<polygon points="193.00,313.32 193.60,314.77 195.17,314.90 193.98,315.92 194.34,317.44 193.00,316.63 191.66,317.44 192.02,315.92 190.83,314.90 192.40,314.77" fill="#000"/>
<polygon points="196.00,315.12 196.60,316.57 198.17,316.70 196.98,317.72 197.34,319.24 196.00,318.43 194.66,319.24 195.02,317.72 193.83,316.70 195.40,316.57" fill="#000"/>
<polygon points="199.00,314.12 199.60,315.57 201.17,315.70 199.98,316.72 200.34,318.24 199.00,317.43 197.66,318.24 198.02,316.72 196.83,315.70 198.40,315.57" fill="#000"/>
<polygon points="203.00,314.92 203.60,316.37 205.17,316.50 203.98,317.52 204.34,319.04 203.00,318.23 201.66,319.04 202.02,317.52 200.83,316.50 202.40,316.37" fill="#000"/>
<polygon points="223.80,315.12 224.40,316.57 225.97,316.70 224.78,317.72 225.14,319.24 223.80,318.43 222.46,319.24 222.82,317.72 221.63,316.70 223.20,316.57" fill="#000"/>
<polygon points="271.00,324.72 271.60,326.17 273.17,326.30 271.98,327.32 272.34,328.84 271.00,328.03 269.66,328.84 270.02,327.32 268.83,326.30 270.40,326.17" fill="#000"/>
<rect x="187.8" y="317.8" width="3.6" height="3.6" fill="#000"/>
<rect x="191.2" y="318.4" width="3.6" height="3.6" fill="#000"/>
<rect x="194.2" y="317.8" width="3.6" height="3.6" fill="#000"/>
<rect x="197.2" y="318.6" width="3.6" height="3.6" fill="#000"/>
<rect x="201.2" y="318.2" width="3.6" height="3.6" fill="#000"/>
<rect x="222.0" y="318.4" width="3.6" height="3.6" fill="#000"/>
<rect x="269.2" y="318.4" width="3.6" height="3.6" fill="#000"/>
<circle cx="189.6" cy="329.7" r="1.82" fill="#000"/>
<circle cx="193.6" cy="328.7" r="1.82" fill="#000"/>
<circle cx="197.0" cy="327.6" r="1.82" fill="#000"/>
<circle cx="201.2" cy="326.4" r="1.82" fill="#000"/>
<circle cx="223.8" cy="324.2" r="1.82" fill="#000"/>
<circle cx="271.0" cy="328.4" r="1.82" fill="#000"/>
<line x1="342.1" y1="272.4" x2="342.1" y2="332.1" stroke="#000" stroke-width="1.5"/>
<line x1="341.4" y1="331.4" x2="431.2" y2="331.4" stroke="#000" stroke-width="1.6"/>
<line x1="339.5" y1="273.7" x2="342.1" y2="273.7" stroke="#000" stroke-width="1.0"/>
<text x="338.9" y="275.1" font-size="3.9" text-anchor="end" font-weight="bold" fill="#000" >80</text>
<line x1="339.5" y1="285.1" x2="342.1" y2="285.1" stroke="#000" stroke-width="1.0"/>
<text x="338.9" y="286.6" font-size="3.9" text-anchor="end" font-weight="bold" fill="#000" >60</text>
<line x1="339.5" y1="296.6" x2="342.1" y2="296.6" stroke="#000" stroke-width="1.0"/>
<text x="338.9" y="298.0" font-size="3.9" text-anchor="end" font-weight="bold" fill="#000" >40</text>
<line x1="339.5" y1="308.1" x2="342.1" y2="308.1" stroke="#000" stroke-width="1.0"/>
<text x="338.9" y="309.5" font-size="3.9" text-anchor="end" font-weight="bold" fill="#000" >20</text>
<line x1="339.5" y1="319.5" x2="342.1" y2="319.5" stroke="#000" stroke-width="1.0"/>
<text x="338.9" y="320.9" font-size="3.9" text-anchor="end" font-weight="bold" fill="#000" >0</text>
<line x1="339.5" y1="330.9" x2="342.1" y2="330.9" stroke="#000" stroke-width="1.0"/>
<text x="338.9" y="332.4" font-size="3.9" text-anchor="end" font-weight="bold" fill="#000" >-20</text>
<line x1="342.2" y1="331.4" x2="342.2" y2="334.6" stroke="#000" stroke-width="1.0"/>
<text x="342.2" y="338.0" font-size="4.1" text-anchor="middle" font-weight="bold" fill="#000" >0</text>
<line x1="364.3" y1="331.4" x2="364.3" y2="334.6" stroke="#000" stroke-width="1.0"/>
<text x="364.3" y="338.0" font-size="4.1" text-anchor="middle" font-weight="bold" fill="#000" >50</text>
<line x1="386.3" y1="331.4" x2="386.3" y2="334.6" stroke="#000" stroke-width="1.0"/>
<text x="386.3" y="338.0" font-size="4.1" text-anchor="middle" font-weight="bold" fill="#000" >100</text>
<line x1="408.4" y1="331.4" x2="408.4" y2="334.6" stroke="#000" stroke-width="1.0"/>
<text x="408.4" y="338.0" font-size="4.1" text-anchor="middle" font-weight="bold" fill="#000" >150</text>
<line x1="430.5" y1="331.4" x2="430.5" y2="334.6" stroke="#000" stroke-width="1.0"/>
<text x="430.5" y="338.0" font-size="4.1" text-anchor="middle" font-weight="bold" fill="#000" >200</text>
<text x="0" y="0" font-size="6.3" text-anchor="middle" fill="#111" transform="translate(331.2,301.2) rotate(-90)" >% Cytotoxicity</text>
<text x="391.0" y="344.6" font-size="6.9" text-anchor="middle" font-weight="normal" fill="#111" >Days after 1st T cell infusion</text>
<polyline points="343.6,319.0 347.6,290.2 351.9,299.4 355.0,294.4 358.0,292.8 384.4,287.8 426.4,289.4" fill="none" stroke="#000" stroke-width="1.288" stroke-linejoin="round"/>
<polyline points="342.1,319.0 345.0,322.0 348.0,319.0 352.0,320.5 355.0,318.0 358.0,319.5 383.9,313.8 426.4,313.6" fill="none" stroke="#000" stroke-width="1.288" stroke-linejoin="round"/>
<polyline points="342.1,321.0 345.0,319.0 348.0,318.0 352.0,319.0 355.0,320.0 358.0,318.5 383.9,314.6 426.4,314.4" fill="none" stroke="#000" stroke-width="1.288" stroke-linejoin="round"/>
<polyline points="342.1,319.5 345.0,323.0 348.0,320.0 352.0,320.0 355.0,319.0 358.0,319.5 383.9,317.6 426.4,317.6" fill="none" stroke="#000" stroke-width="1.288" stroke-linejoin="round"/>
<polyline points="358.0,319.8 431.6,319.8" fill="none" stroke="#000" stroke-width="1.0" stroke-linejoin="round"/>
<polygon points="341.3,317.2 345.9,317.2 343.6,321.3" fill="#000"/>
<polygon points="345.3,288.4 349.9,288.4 347.6,292.5" fill="#000"/>
<polygon points="349.6,297.6 354.2,297.6 351.9,301.7" fill="#000"/>
<polygon points="352.7,292.6 357.3,292.6 355.0,296.7" fill="#000"/>
<polygon points="355.7,291.0 360.3,291.0 358.0,295.1" fill="#000"/>
<polygon points="382.1,286.0 386.7,286.0 384.4,290.1" fill="#000"/>
<polygon points="424.1,287.6 428.7,287.6 426.4,291.7" fill="#000"/>
<circle cx="342.1" cy="319.0" r="1.92" fill="#000"/>
<circle cx="345.0" cy="322.0" r="1.92" fill="#000"/>
<circle cx="348.0" cy="319.0" r="1.92" fill="#000"/>
<circle cx="352.0" cy="320.5" r="1.92" fill="#000"/>
<circle cx="355.0" cy="318.0" r="1.92" fill="#000"/>
<circle cx="358.0" cy="319.5" r="1.92" fill="#000"/>
<circle cx="383.9" cy="313.8" r="1.92" fill="#000"/>
<circle cx="426.4" cy="313.6" r="1.92" fill="#000"/>
<polygon points="342.10,318.60 342.73,320.13 344.38,320.26 343.13,321.33 343.51,322.94 342.10,322.08 340.69,322.94 341.07,321.33 339.82,320.26 341.47,320.13" fill="#000"/>
<polygon points="345.00,316.60 345.63,318.13 347.28,318.26 346.03,319.33 346.41,320.94 345.00,320.08 343.59,320.94 343.97,319.33 342.72,318.26 344.37,318.13" fill="#000"/>
<polygon points="348.00,315.60 348.63,317.13 350.28,317.26 349.03,318.33 349.41,319.94 348.00,319.08 346.59,319.94 346.97,318.33 345.72,317.26 347.37,317.13" fill="#000"/>
<polygon points="352.00,316.60 352.63,318.13 354.28,318.26 353.03,319.33 353.41,320.94 352.00,320.08 350.59,320.94 350.97,319.33 349.72,318.26 351.37,318.13" fill="#000"/>
<polygon points="355.00,317.60 355.63,319.13 357.28,319.26 356.03,320.33 356.41,321.94 355.00,321.08 353.59,321.94 353.97,320.33 352.72,319.26 354.37,319.13" fill="#000"/>
<polygon points="358.00,316.10 358.63,317.63 360.28,317.76 359.03,318.83 359.41,320.44 358.00,319.58 356.59,320.44 356.97,318.83 355.72,317.76 357.37,317.63" fill="#000"/>
<polygon points="383.90,312.20 384.53,313.73 386.18,313.86 384.93,314.93 385.31,316.54 383.90,315.68 382.49,316.54 382.87,314.93 381.62,313.86 383.27,313.73" fill="#000"/>
<polygon points="426.40,312.00 427.03,313.53 428.68,313.66 427.43,314.73 427.81,316.34 426.40,315.48 424.99,316.34 425.37,314.73 424.12,313.66 425.77,313.53" fill="#000"/>
<rect x="340.2" y="317.6" width="3.8" height="3.8" fill="#000"/>
<rect x="343.1" y="321.1" width="3.8" height="3.8" fill="#000"/>
<rect x="346.1" y="318.1" width="3.8" height="3.8" fill="#000"/>
<rect x="350.1" y="318.1" width="3.8" height="3.8" fill="#000"/>
<rect x="353.1" y="317.1" width="3.8" height="3.8" fill="#000"/>
<rect x="356.1" y="317.6" width="3.8" height="3.8" fill="#000"/>
<rect x="382.0" y="315.7" width="3.8" height="3.8" fill="#000"/>
<rect x="424.5" y="315.7" width="3.8" height="3.8" fill="#000"/>
<line x1="446.1" y1="265.9" x2="452.7" y2="265.9" stroke="#000" stroke-width="1.3"/>
<polygon points="446.9,263.9 451.9,263.9 449.4,268.4" fill="#000"/>
<text x="456.3" y="268.2" font-size="6.6" text-anchor="start" font-weight="normal" fill="#1a1a1a" letter-spacing="0.05">LCL</text>
<line x1="446.1" y1="274.0" x2="452.7" y2="274.0" stroke="#000" stroke-width="1.3"/>
<polygon points="446.9,274.0 449.4,271.5 451.9,274.0 449.4,276.4" fill="#000"/>
<text x="456.3" y="276.3" font-size="6.6" text-anchor="start" font-weight="normal" fill="#1a1a1a" letter-spacing="0.05">CAR+ T cells</text>
<line x1="446.1" y1="282.0" x2="452.7" y2="282.0" stroke="#000" stroke-width="1.3"/>
<polygon points="449.40,279.44 450.09,281.09 451.87,281.24 450.51,282.40 450.93,284.14 449.40,283.21 447.87,284.14 448.29,282.40 446.93,281.24 448.71,281.09" fill="#000"/>
<text x="456.3" y="284.4" font-size="6.6" text-anchor="start" font-weight="normal" fill="#1a1a1a" letter-spacing="0.05">CAR+ LCL - LCL</text>
<line x1="446.1" y1="290.1" x2="452.7" y2="290.1" stroke="#000" stroke-width="1.3"/>
<polygon points="451.74,290.11 450.57,292.14 448.23,292.14 447.06,290.11 448.23,288.08 450.57,288.08" fill="#000"/>
<text x="456.3" y="292.5" font-size="6.6" text-anchor="start" font-weight="normal" fill="#1a1a1a" letter-spacing="0.05">PBMC</text>
</svg>
</body></html>
